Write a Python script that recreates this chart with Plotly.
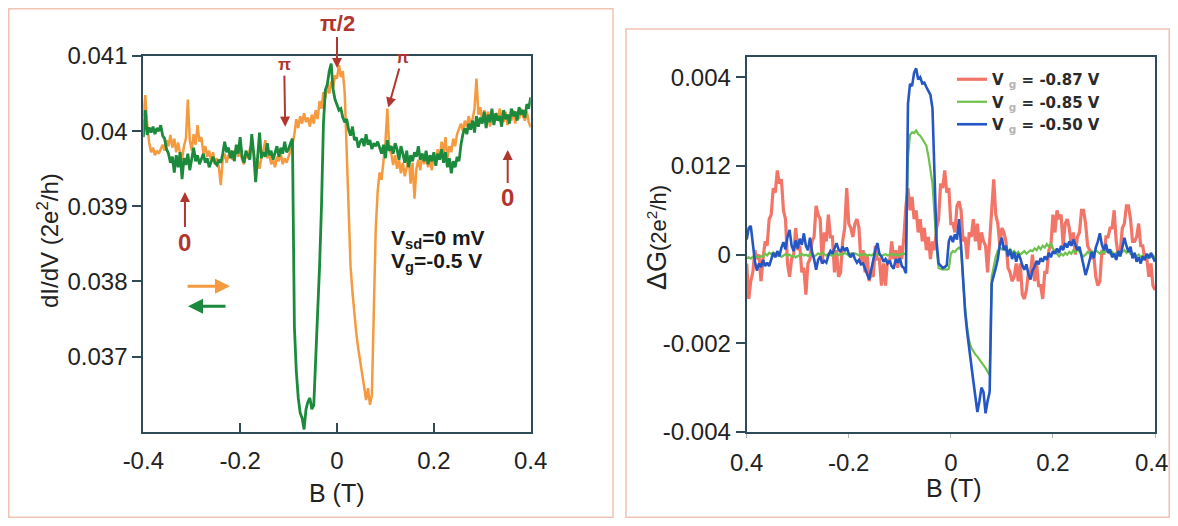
import plotly.graph_objects as go

# ---------------- data ----------------
# magnetic field sampling grid (T)
B = [round(-0.4 + 0.004 * i, 3) for i in range(201)]

# Left panel: dI/dV in units of 1e-3 (2e^2/h)
didv_up = [  # orange, forward sweep
    40.20, 40.48, 40.10, 39.85, 39.72, 39.78, 39.68, 39.74, 39.70, 39.76,
    39.82, 39.74, 39.88, 39.80, 39.95, 39.78, 39.90, 39.72, 39.85, 39.70,
    39.62, 39.80, 39.90, 40.42, 39.88, 39.74, 39.96, 39.82, 40.08, 39.86,
    39.92, 39.70, 39.80, 39.66, 39.74, 39.60, 39.72, 39.56, 39.64, 39.52,
    39.28, 39.62, 39.70, 39.58, 39.68, 39.74, 39.62, 39.70, 39.78, 39.66,
    39.74, 39.62, 39.56, 39.70, 39.64, 39.76, 39.82, 39.70, 39.58, 39.62,
    39.50, 39.66, 39.74, 39.88, 39.64, 39.70, 39.56, 39.62, 39.52, 39.66,
    39.60, 39.70, 39.56, 39.64, 39.58, 39.66, 39.74, 39.82, 39.96, 40.16,
    40.04, 40.20, 40.10, 40.24, 40.12, 40.18, 40.06, 40.22, 40.10, 40.28,
    40.16, 40.40, 40.30, 40.52, 40.44, 40.62, 40.50, 40.66, 40.58, 40.74,
    40.70, 40.88, 40.72, 40.80, 40.50, 39.70, 38.80, 38.20, 37.85, 37.55,
    37.30, 37.10, 36.95, 36.75, 36.60, 36.42, 36.58, 36.36, 36.48, 37.60,
    38.70, 39.20, 39.45, 39.35, 39.62, 39.85, 40.30, 39.75, 39.70, 39.55,
    39.68, 39.50, 39.62, 39.44, 39.58, 39.40, 39.52, 39.66, 39.30, 39.58,
    39.10, 39.50, 39.62, 39.48, 39.70, 39.56, 39.66, 39.52, 39.62, 39.48,
    39.70, 39.58, 39.76, 39.62, 39.86, 39.70, 39.92, 39.64, 39.80, 39.72,
    39.90, 39.80, 39.96, 40.02, 40.10, 40.00, 40.14, 40.06, 40.20, 40.08,
    40.16, 40.30, 40.70, 40.22, 40.32, 40.12, 40.28, 40.16, 40.26, 40.06,
    40.20, 40.10, 40.24, 40.14, 40.30, 40.18, 40.12, 40.26, 40.08, 40.22,
    40.14, 40.28, 40.10, 40.24, 40.16, 40.30, 40.20, 40.14, 40.26, 40.12,
    40.05,
]
didv_down = [  # green, backward sweep
    39.92, 40.28, 39.95, 40.05, 39.98, 40.06, 39.96, 40.04, 40.00, 40.08,
    39.94, 39.90, 39.76, 39.70, 39.58, 39.66, 39.45, 39.68, 39.52, 39.72,
    39.36, 39.64, 39.55, 39.70, 39.48, 39.62, 39.78, 39.60, 39.68, 39.56,
    39.62, 39.70, 39.58, 39.64, 39.52, 39.60, 39.66, 39.58, 39.55, 39.62,
    39.58, 39.70, 39.86, 39.72, 39.78, 39.64, 39.74, 39.60, 39.82, 39.70,
    39.92, 39.66, 39.58, 39.74, 39.68, 39.62, 39.96, 39.70, 39.32, 39.70,
    39.98, 39.64, 39.72, 39.66, 39.84, 39.68, 39.74, 39.62, 39.70, 39.80,
    39.66, 39.78, 39.70, 39.86, 39.72, 39.76, 39.84, 39.90, 37.40, 36.80,
    36.45, 36.25, 36.18, 36.03, 36.30, 36.40, 36.45, 36.30, 36.35, 36.90,
    37.45, 38.20, 39.00, 40.10, 40.55, 40.62, 40.80, 40.90, 40.55, 40.42,
    40.35, 40.28, 40.30, 40.18, 40.12, 40.16, 40.02, 39.94, 40.06, 39.88,
    39.92, 39.78, 39.86, 39.90, 39.80, 39.96, 39.82, 39.88, 39.76, 39.84,
    39.80, 39.86, 39.78, 39.70, 39.82, 39.64, 39.88, 39.74, 39.80, 39.70,
    39.84, 39.76, 39.62, 39.80, 39.70, 39.58, 39.74, 39.52, 39.68, 39.60,
    39.72, 39.66, 39.80, 39.62, 39.70, 39.60, 39.74, 39.56, 39.68, 39.60,
    39.72, 39.54, 39.70, 39.62, 39.76, 39.58, 39.72, 39.52, 39.64, 39.44,
    39.60, 39.52, 39.66, 39.60, 39.82, 39.96, 40.04, 39.96, 40.10, 40.02,
    40.14, 39.98, 40.20, 40.06, 40.18, 40.10, 40.26, 40.04, 40.22, 40.12,
    40.30, 40.08, 40.24, 40.14, 40.20, 40.06, 40.28, 40.16, 40.22, 40.10,
    40.30, 40.20, 40.26, 40.14, 40.32, 40.22, 40.28, 40.18, 40.36, 40.30,
    40.45,
]

# Right panel: delta G in units of 1e-4 (2e^2/h)
dg_m087 = [  # red, Vg = -0.87 V
    -2, -10, -6, -4, 1, -1, 0, -6, -1, 3,
    2, 8, 9, 15, 14, 19, 16, 17, 10, 8,
    -2, -5, -1, 0, 6, 1, 2, -4, -3, -9,
    -2, -1, 3, 4, 11, 9, 8, -2, 5, 3,
    9, 4, 4, -4, 1, -5, -4, 3, 6, 15,
    7, 6, 4, 7, 8, 6, -2, 1, -4, 0,
    -6, -4, -5, 2, -1, -1, -7, -2, -7, -1,
    -2, 3, -1, 1, -3, 2, -1, 4, 11, 15,
    10, 13, 8, 10, 5, 8, 3, 6, 1, 4,
    -1, 3, 1, 6, 8, 16, 15, 19, 14, 15,
    7, 7, 5, 11, 12, 10, 3, 4, -1, 5,
    4, 8, 3, 7, 1, 5, 3, 2, -4, 3,
    8, 17, 9, 7, 2, 6, 5, 3, -3, -4,
    -6, -5, -2, -6, -2, -9, -10, -8, -4, -4,
    0, -6, -2, -7, -7, -10, -4, -4, 1, 2,
    9, 5, 10, 8, 9, 2, 7, 8, 6, 2,
    5, 0, 4, 5, 10, 10, 7, 2, 1, -1,
    0, -5, -7, -6, 1, 0, 4, 4, 6, 6,
    10, 3, 0, 1, 6, 7, 11, 11, 8, 3,
    3, 4, 7, 2, 2, -1, -1, -5, -2, -7,
    -8,
]
dg_m085 = [  # green, Vg = -0.85 V
    -0.8, -0.6, -0.9, -0.5, -0.7, -0.4, -0.6, -0.3, -0.5, 0.2,
    -0.2, 0.4, 0.1, 0.5, 0.2, -0.3, -0.1, -0.5, -0.2, 0.1,
    -0.3, 0.0, -0.4, -0.2, -0.6, -0.3, -0.1, 0.2, -0.2, 0.0,
    -0.3, 0.1, -0.2, -0.4, -0.1, 0.3, 0.0, 0.4, 0.1, -0.2,
    0.2, 0.0, -0.3, 0.1, 0.3, -0.1, 0.2, 0.0, 0.4, 0.1,
    -0.2, 0.2, -0.1, 0.3, 0.0, -0.2, 0.1, -0.1, 0.2, -0.3,
    0.0, -0.2, 0.1, -0.1, 0.2, 0.0, -0.3, -0.1, 0.1, -0.2,
    0.0, 0.2, -0.1, 0.1, -0.2, 0.0, 0.2, 0.1, 0.3, 22.0,
    27.0, 27.6, 27.4, 28.0, 27.2, 26.8, 26.0, 25.5, 24.6, 22.2,
    19.5, 16.0, 9.0, 1.5, -3.0, -3.2, -3.4, -3.3, -3.4, -3.2,
    0.2, 0.8, 0.6, 1.2, 1.6, 1.0, -6.0, -12.0, -16.5, -19.5,
    -21.0, -21.8, -22.5, -23.0, -23.6, -24.2, -24.8, -25.6, -26.4, -27.2,
    -5.0, -2.5, -0.5, 0.8, 1.6, 1.2, 1.8, 1.0, 0.6, 1.2,
    0.4, 0.8, 0.2, 0.6, 0.0, 0.4, 0.8, 0.2, 0.6, 1.0,
    0.8, 1.4, 1.0, 1.8, 1.2, 2.0, 1.6, 2.4, 1.8, 2.6,
    1.4, 0.8, 0.2, -0.4, 0.2, -0.2, 0.4, 0.0, 0.6, 0.2,
    1.0, 0.4, 1.2, 0.6, 0.2, -0.4, 0.0, 0.6, 0.2, 0.8,
    0.4, 1.0, 0.6, 0.2, 0.8, 0.4, 1.0, 0.6, 0.2, 0.6,
    0.0, 0.4, -0.2, 0.2, 0.6, 1.0, 0.4, 0.8, 0.2, -0.2,
    0.2, -0.4, 0.0, -0.6, -0.2, -0.8, -0.4, -0.2, -0.6, -0.2,
    -0.6,
]
dg_m050 = [  # blue, Vg = -0.50 V
    3.4, 6.0, 6.5, 2.0, -1.5, -3.6, -2.0, -2.8, -1.2, -2.6,
    -1.8, -2.6, -0.8, 0.4, -0.6, 0.8, -0.4, 1.6, 2.8, 1.2,
    4.0, 5.6, 2.0, 0.8, 3.2, 1.4, 3.6, 2.2, 4.8, 2.0,
    1.0, 3.8, 0.6, -1.0, -3.4, -1.2, -0.4, -2.0, -1.4, -1.8,
    -0.2, 0.8, 0.2, 1.4, 2.6, 1.2, 0.6, 1.8, 0.8, 1.6,
    0.2, -0.6, 0.4, -1.0, -1.8, -1.2, -2.2, -2.0, -3.0, -4.4,
    -5.6, -3.2, -0.6, 1.0, 2.6, 0.2, -0.4, -1.6, -1.0, -2.0,
    -1.4, -2.6, -3.2, -1.0, -1.8, -0.8, -2.6, -3.0, -4.2, 34.0,
    38.5, 38.0, 41.0, 42.0, 39.5, 40.0, 38.6, 38.8, 37.8, 36.8,
    36.0, 33.0, 18.0, 3.0, -2.0, -2.6, -3.0, -2.8, -2.4, 3.0,
    4.2, 2.8, 4.6, 3.4, 8.0, 2.0, -6.0, -13.0, -17.5, -21.5,
    -25.0, -28.5, -32.0, -35.5, -33.0, -30.0, -31.0, -35.8, -33.0, -31.0,
    -6.5, -5.0, -3.0, -1.0, 2.4, 3.8, 1.0, 2.0, -0.4, 1.2,
    -1.0, 0.6, -1.6, 0.2, -0.8, -2.4, -3.4, -2.2, -4.4, -5.6,
    -3.6, -2.8, -1.4, -2.2, -0.8, -1.6, -0.4, -1.2, 0.4, -0.6,
    0.8, 0.2, 1.4, 0.4, 2.0, 1.0, 2.6, 1.6, 3.0, 2.0,
    3.4, 2.2, 1.0, 1.8, -0.4, -2.6, -4.6, -3.0, -1.0, 0.6,
    -0.8, 1.6, 3.0, 4.8, 2.2, 1.0, 2.4, 0.4, 1.2, -0.6,
    0.2, -1.2, 0.8, -0.4, 1.6, 3.8, 2.0, 0.6, 1.8, -0.8,
    0.4, -1.6, -0.6, -2.0, -0.4, -1.2, 0.2, -0.8, 0.4, -0.6,
    -1.6,
]

x_tick_vals = [-0.4, -0.2, 0, 0.2, 0.4]
left_x_labels = ["-0.4", "-0.2", "0", "0.2", "0.4"]
right_x_labels = ["0.4", "-0.2", "0", "0.2", "0.4\u00a0"]
left_y_vals = [0.037, 0.038, 0.039, 0.040, 0.041]
left_y_labels = ["0.037", "0.038", "0.039", "0.04", "0.041"]
right_y_vals = [0.004, 0.002, 0.0, -0.002, -0.004]
right_y_labels = ["0.004", "0.012", "0", "-0.002", "-0.004"]

legend_names = [
    "<b>V <span style='color:#b5b5b5'><sub>g</sub></span> = -0.87 V</b>",
    "<b>V <span style='color:#b5b5b5'><sub>g</sub></span> = -0.85 V</b>",
    "<b>V <span style='color:#b5b5b5'><sub>g</sub></span> = -0.50 V</b>",
]

# ---------------- figure ----------------
# the page body has an 8 px margin; size the figure so nothing overflows the window
W, H = 1162, 510
OFF = 8
FONT = "Liberation Sans, Arial, sans-serif"
AX = "#2e4b57"
DARKRED = "#b0362e"


def px(v):
    return (v - OFF) / W


def py(v):
    return 1 - (v - OFF) / H


fig = go.Figure()

fig.add_trace(go.Scatter(x=B, y=[v * 1e-3 for v in didv_up], mode="lines",
                         line=dict(color="#f59a3e", width=2.5), showlegend=False,
                         xaxis="x", yaxis="y"))
fig.add_trace(go.Scatter(x=B, y=[v * 1e-3 for v in didv_down], mode="lines",
                         line=dict(color="#1c8a3c", width=2.8), showlegend=False,
                         xaxis="x", yaxis="y"))

fig.add_trace(go.Scatter(x=B, y=[v * 1e-4 for v in dg_m087], mode="lines",
                         line=dict(color="rgba(238,58,40,0.7)", width=3.2),
                         name=legend_names[0], xaxis="x2", yaxis="y2"))
fig.add_trace(go.Scatter(x=B, y=[v * 1e-4 for v in dg_m085], mode="lines",
                         line=dict(color="#6cc24a", width=2.2),
                         name=legend_names[1], xaxis="x2", yaxis="y2"))
fig.add_trace(go.Scatter(x=B, y=[v * 1e-4 for v in dg_m050], mode="lines",
                         line=dict(color="#2456c4", width=2.6),
                         name=legend_names[2], xaxis="x2", yaxis="y2"))

common_axis = dict(showline=True, linecolor=AX, linewidth=2, mirror=True,
                   showgrid=False, zeroline=False, automargin=False,
                   ticklabeloverflow="allow",
                   tickfont=dict(family=FONT, size=24, color="#222"))

fig.update_layout(
    width=W, height=H, autosize=False,
    margin=dict(l=0, r=0, t=0, b=0),
    paper_bgcolor="white", plot_bgcolor="white",
    xaxis=dict(domain=[px(143.3), px(530.7)], range=[-0.4, 0.4],
               tickvals=x_tick_vals, ticktext=left_x_labels,
               ticks="inside", ticklen=9, tickwidth=2, tickcolor=AX,
               ticklabelstandoff=6, anchor="y", **common_axis),
    yaxis=dict(domain=[py(431.7), py(56)], range=[0.036, 0.041],
               tickvals=left_y_vals, ticktext=left_y_labels,
               ticks="outside", ticklen=9, tickwidth=2, tickcolor=AX,
               anchor="x", **common_axis),
    xaxis2=dict(domain=[px(746.7), px(1155)], range=[-0.4, 0.4],
                tickvals=x_tick_vals, ticktext=right_x_labels,
                ticks="outside", ticklen=4, tickwidth=1, tickcolor="#b0b8bc",
                ticklabelstandoff=4, anchor="y2", **common_axis),
    yaxis2=dict(domain=[py(432), py(57.3)], range=[-0.004, 0.00445],
                tickvals=right_y_vals, ticktext=right_y_labels,
                ticks="outside", ticklen=9, tickwidth=2, tickcolor=AX,
                anchor="x2", **common_axis),
    legend=dict(x=px(952), y=py(63), xanchor="left", yanchor="top",
                bgcolor="rgba(0,0,0,0)", borderwidth=0,
                font=dict(family="DejaVu Sans, Verdana, sans-serif", size=15, color="#2a2a2a"),
                tracegroupgap=0, itemwidth=30),
    showlegend=True,
)

# panel frames
fig.add_shape(type="rect", xref="paper", yref="paper",
              x0=px(8.8), x1=px(613), y0=py(517.2), y1=py(8.8),
              line=dict(color="#f0c2b2", width=1.5), layer="below")
fig.add_shape(type="rect", xref="paper", yref="paper",
              x0=px(626), x1=px(1169.2), y0=py(517.2), y1=py(29),
              line=dict(color="#f0c2b2", width=1.5), layer="below")

ann = []
# axis titles
ann.append(dict(text="B (T)", xref="paper", yref="paper", x=px(337), y=py(493),
                xanchor="center", yanchor="middle", showarrow=False,
                font=dict(family=FONT, size=25, color="#222")))
ann.append(dict(text="B (T)", xref="paper", yref="paper", x=px(954), y=py(488),
                xanchor="center", yanchor="middle", showarrow=False,
                font=dict(family=FONT, size=25, color="#222")))
ann.append(dict(text="dI/dV (2e<sup>2</sup>/h)", xref="paper", yref="paper",
                x=px(48), y=py(240), xanchor="center", yanchor="middle",
                textangle=-90, showarrow=False,
                font=dict(family=FONT, size=24, color="#222")))
ann.append(dict(text="ΔG<span style='font-size:22px'>(2e<sup>2</sup>/h)</span>",
                xref="paper", yref="paper", x=px(657), y=py(238),
                xanchor="center", yanchor="middle", textangle=-90,
                showarrow=False, font=dict(family=FONT, size=27, color="#222")))


# phase markers (left panel)
def marker(text, x, y, ax, ay, size):
    return dict(text="<b>%s</b>" % text, x=x, y=y, xref="x", yref="y",
                ax=ax, ay=ay, showarrow=True, arrowhead=2, arrowsize=1,
                arrowwidth=2, arrowcolor=DARKRED,
                font=dict(family=FONT, size=size, color=DARKRED))


ann.append(marker("π/2", 0.0, 0.04084, 0, -45, 22))
ann.append(marker("π", -0.107, 0.04006, -1, -62, 17))
ann.append(marker("π", 0.106, 0.040315, 14, -50, 17))
ann.append(marker("0", -0.314, 0.03919, 0, 50, 24))
ann.append(marker("0", 0.3525, 0.03975, 0, 48, 24))

# sweep direction arrows
ann.append(dict(text="", x=-0.2209, y=0.037935, ax=-0.3118, ay=0.037935,
                xref="x", yref="y", axref="x", ayref="y", showarrow=True,
                arrowhead=2, arrowsize=1, arrowwidth=3, arrowcolor="#f59a3e"))
ann.append(dict(text="", x=-0.3077, y=0.037671, ax=-0.2271, ay=0.037671,
                xref="x", yref="y", axref="x", ayref="y", showarrow=True,
                arrowhead=2, arrowsize=1, arrowwidth=3, arrowcolor="#1c8a3c"))

# measurement conditions
ann.append(dict(text="<b>V<sub>sd</sub>=0 mV</b>", x=0.1076, y=0.03857, xref="x", yref="y",
                xanchor="left", yanchor="middle", showarrow=False,
                font=dict(family=FONT, size=21, color="#1a1a1a")))
ann.append(dict(text="<b>V<sub>g</sub>=-0.5 V</b>", x=0.1076, y=0.03826, xref="x", yref="y",
                xanchor="left", yanchor="middle", showarrow=False,
                font=dict(family=FONT, size=21, color="#1a1a1a")))

fig.update_layout(annotations=ann)

fig.write_html("out.html")
